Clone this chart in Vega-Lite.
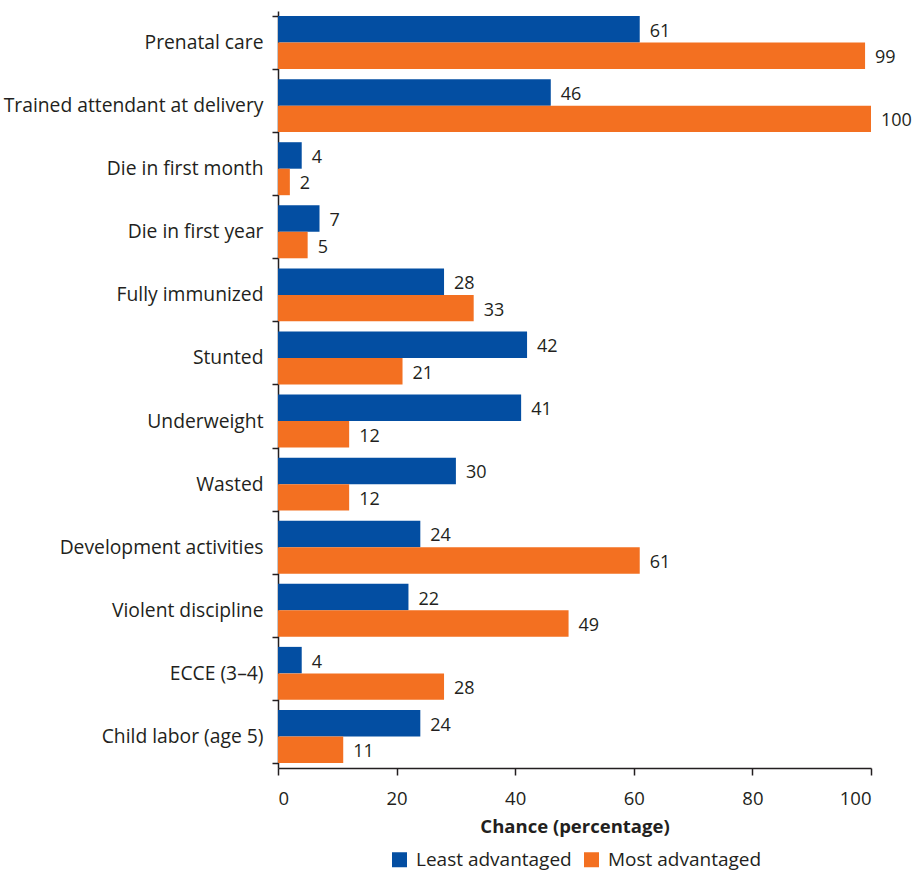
{
  "$schema": "https://vega.github.io/schema/vega-lite/v6.json",
  "width": 593,
  "height": 757,
  "autosize": {"type": "none"},
  "padding": {"left": 278, "top": 11, "right": 42, "bottom": 106},
  "background": "white",
  "config": {
    "font": "Open Sans",
    "view": {"stroke": null},
    "axis": {"labelColor": "#231F20", "titleColor": "#231F20", "domainColor": "#231F20", "tickColor": "#231F20", "domainWidth": 1.5, "tickWidth": 1.5, "grid": false}
  },
  "data": {
    "values": [
      {"item": "Prenatal care", "group": "Least advantaged", "value": 61},
      {"item": "Prenatal care", "group": "Most advantaged", "value": 99},
      {"item": "Trained attendant at delivery", "group": "Least advantaged", "value": 46},
      {"item": "Trained attendant at delivery", "group": "Most advantaged", "value": 100},
      {"item": "Die in first month", "group": "Least advantaged", "value": 4},
      {"item": "Die in first month", "group": "Most advantaged", "value": 2},
      {"item": "Die in first year", "group": "Least advantaged", "value": 7},
      {"item": "Die in first year", "group": "Most advantaged", "value": 5},
      {"item": "Fully immunized", "group": "Least advantaged", "value": 28},
      {"item": "Fully immunized", "group": "Most advantaged", "value": 33},
      {"item": "Stunted", "group": "Least advantaged", "value": 42},
      {"item": "Stunted", "group": "Most advantaged", "value": 21},
      {"item": "Underweight", "group": "Least advantaged", "value": 41},
      {"item": "Underweight", "group": "Most advantaged", "value": 12},
      {"item": "Wasted", "group": "Least advantaged", "value": 30},
      {"item": "Wasted", "group": "Most advantaged", "value": 12},
      {"item": "Development activities", "group": "Least advantaged", "value": 24},
      {"item": "Development activities", "group": "Most advantaged", "value": 61},
      {"item": "Violent discipline", "group": "Least advantaged", "value": 22},
      {"item": "Violent discipline", "group": "Most advantaged", "value": 49},
      {"item": "ECCE (3–4)", "group": "Least advantaged", "value": 4},
      {"item": "ECCE (3–4)", "group": "Most advantaged", "value": 28},
      {"item": "Child labor (age 5)", "group": "Least advantaged", "value": 24},
      {"item": "Child labor (age 5)", "group": "Most advantaged", "value": 11}
    ]
  },
  "encoding": {
    "y": {
      "field": "item",
      "type": "nominal",
      "sort": null,
      "scale": {"paddingInner": 0.16, "paddingOuter": 0.08},
      "axis": {"title": null, "tickBand": "extent", "tickSize": 6, "labelPadding": 9, "labelFontSize": 19.3, "labelLimit": 300}
    },
    "yOffset": {"field": "group", "type": "nominal", "sort": ["Least advantaged", "Most advantaged"], "scale": {"paddingInner": 0, "paddingOuter": 0}},
    "x": {
      "field": "value",
      "type": "quantitative",
      "scale": {"domain": [0, 100], "nice": false},
      "axis": {"title": "Chance (percentage)", "values": [0, 20, 40, 60, 80, 100], "tickSize": 7, "labelPadding": 14, "labelFontSize": 18.5, "titleFontSize": 18.5, "titleFontWeight": "bold", "titlePadding": 10}
    }
  },
  "layer": [
    {
      "mark": {"type": "bar"},
      "encoding": {
        "color": {
          "field": "group",
          "type": "nominal",
          "sort": ["Least advantaged", "Most advantaged"],
          "scale": {"domain": ["Least advantaged", "Most advantaged"], "range": ["#034EA2", "#F37021"]},
          "legend": {
            "title": null,
            "orient": "none",
            "direction": "horizontal",
            "legendX": 112,
            "legendY": 839,
            "symbolType": "square",
            "symbolSize": 225,
            "symbolStrokeWidth": 0,
            "symbolOpacity": 1,
            "labelFontSize": 19,
            "labelColor": "#231F20",
            "labelOffset": 7,
            "columnPadding": 10
          }
        }
      }
    },
    {
      "mark": {"type": "text", "align": "left", "baseline": "middle", "dx": 10, "dy": 2.5, "fontSize": 18, "color": "#231F20"},
      "encoding": {"text": {"field": "value", "type": "quantitative"}}
    }
  ]
}
